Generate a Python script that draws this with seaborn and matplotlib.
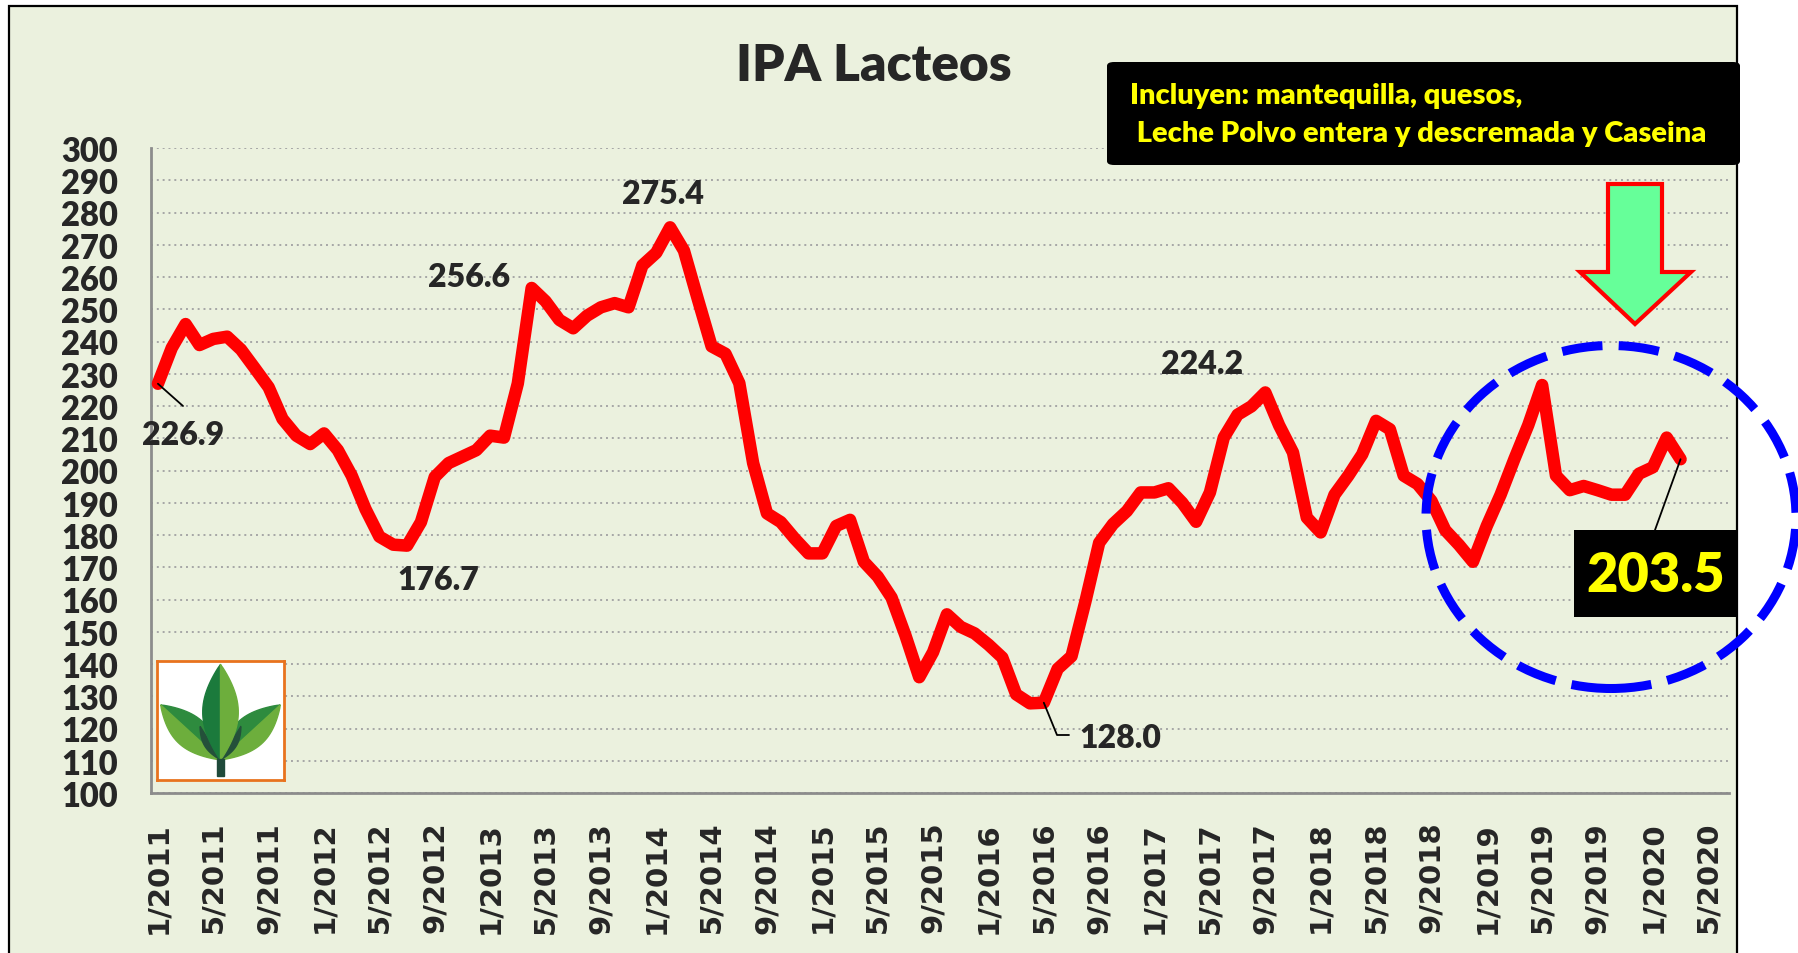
import numpy as np
import pandas as pd
import seaborn as sns
from matplotlib import pyplot as plt
from matplotlib.patches import Rectangle, Ellipse, Polygon, FancyBboxPatch
from matplotlib.lines import Line2D

# IPA Lacteos, mensual desde 1/2011 hasta 3/2020
ipa = [226.9, 238.0, 245.4, 238.9, 240.8, 241.5, 237.5, 231.7, 225.8, 216.0, 210.8, 208.2,
       211.5, 206.3, 198.4, 188.0, 179.5, 177.0, 176.7, 184.0, 198.0, 202.3, 204.3, 206.3,
       210.8, 210.2, 227.0, 256.6, 252.5, 246.7, 244.1, 248.0, 250.6, 251.9, 250.6, 263.6,
       267.5, 275.4, 268.2, 253.2, 238.5, 236.2, 227.1, 202.3, 186.7, 184.0, 178.9, 174.3,
       174.3, 182.8, 184.7, 171.7, 167.1, 160.6, 148.9, 135.9, 143.7, 155.4, 151.5, 149.5,
       146.0, 142.0, 130.6, 127.8, 128.0, 138.5, 142.4, 159.3, 177.6, 183.4, 187.4, 193.2,
       193.2, 194.5, 190.0, 184.1, 193.2, 210.2, 217.3, 219.9, 224.2, 214.0, 205.6, 185.4,
       180.8, 192.5, 198.4, 205.0, 215.4, 212.8, 198.4, 195.8, 190.6, 181.5, 176.9, 171.7,
       182.8, 192.5, 203.6, 214.1, 226.5, 198.4, 193.9, 195.2, 193.9, 192.5, 192.5, 199.0,
       201.0, 210.2, 203.5]

etiquetas_x = ["1/2011", "5/2011", "9/2011", "1/2012", "5/2012", "9/2012", "1/2013", "5/2013",
               "9/2013", "1/2014", "5/2014", "9/2014", "1/2015", "5/2015", "9/2015", "1/2016",
               "5/2016", "9/2016", "1/2017", "5/2017", "9/2017", "1/2018", "5/2018", "9/2018",
               "1/2019", "5/2019", "9/2019", "1/2020", "5/2020"]
n_meses = 114  # el eje llega hasta 6/2020

# puntos rotulados: (indice del mes, texto)
rotulos = {0: "226.9", 18: "176.7", 27: "256.6", 37: "275.4", 64: "128.0", 80: "224.2"}

titulo = "IPA Lacteos"
nota = ["Incluyen: mantequilla, quesos,", " Leche Polvo entera y descremada y Caseina"]

fondo = "#EBF1DE"
W, H = 1799, 954
peso = "heavy"

sns.set_style("white")
plt.rcParams['font.family'] = ['Lato', 'DejaVu Sans']

fig = plt.figure(figsize=(W / 100, H / 100), dpi=100)
fig.patch.set_facecolor("white")


def px(x, y):
    # pixeles medidos desde arriba a coordenadas de figura
    return x / W, 1 - y / H


# marco del grafico
marco = Rectangle(px(9, 1000), (1737 - 9) / W, (1000 - 7) / H, transform=fig.transFigure,
                  facecolor=fondo, edgecolor="black", lw=1.6, zorder=-10)
fig.add_artist(marco)

ax = fig.add_axes([151 / W, 1 - 794 / H, (1729 - 151) / W, (794 - 149) / H])
ax.set_facecolor("none")

df = pd.DataFrame({"mes": np.arange(len(ipa)), "ipa": ipa})
sns.lineplot(data=df, x="mes", y="ipa", color="#FF0000", linewidth=9, ax=ax, zorder=5)
linea = ax.lines[0]
linea.set_solid_capstyle("round")
linea.set_solid_joinstyle("round")

ax.set_xlim(-0.5, n_meses - 0.5)
ax.set_ylim(100, 300)
ax.set_xlabel("")
ax.set_ylabel("")

ax.set_yticks(range(100, 301, 10))
ax.set_yticklabels([str(v) for v in range(100, 301, 10)], fontsize=23.5, fontweight=peso)
ax.set_xticks(range(0, n_meses, 4))
ax.set_xticklabels(etiquetas_x, rotation=90, fontsize=21, fontweight="bold",
                   family="DejaVu Sans", va="top")
ax.set_xticks(np.arange(-0.5, n_meses, 1), minor=True)
ax.tick_params(axis="x", which="major", length=0, pad=20)
ax.tick_params(axis="x", which="minor", length=8.5, width=1.3, color="#8C8C8C")
ax.tick_params(axis="y", length=8, width=1.5, color="#8C8C8C", pad=16)

for s in ["top", "right"]:
    ax.spines[s].set_visible(False)
for s in ["left", "bottom"]:
    ax.spines[s].set_color("#8C8C8C")
    ax.spines[s].set_linewidth(2)
ax.yaxis.grid(True, linestyle=(0, (1, 2)), color="#A6A6A6", linewidth=1.4)
ax.set_axisbelow(True)

# titulo
fig.text(*px(874, 66), titulo, ha="center", va="center", fontsize=37, fontweight=peso)

# rotulos de datos
pos_rotulo = {0: (183, 436), 18: (438, 581), 27: (469, 278), 37: (663, 194),
              64: (1120, 738), 80: (1202, 365)}
for i, txt in rotulos.items():
    fig.text(*px(*pos_rotulo[i]), txt, ha="center", va="center", fontsize=23,
             fontweight=peso, zorder=6)


def dato_px(i):
    xd, yd = ax.transData.transform((i, ipa[i]))
    return xd, H - yd


# lineas guia
x0, y0 = dato_px(0)
fig.add_artist(Line2D([x0 / W, 183 / W], [1 - y0 / H, 1 - 407 / H], color="black", lw=1.3,
                      transform=fig.transFigure, zorder=6))
x0, y0 = dato_px(64)
fig.add_artist(Line2D([x0 / W, 1057 / W, 1069 / W], [1 - y0 / H, 1 - 736 / H, 1 - 736 / H],
                      color="black", lw=1.3, transform=fig.transFigure, zorder=6))
x0, y0 = dato_px(len(ipa) - 1)
fig.add_artist(Line2D([x0 / W, 1655 / W], [1 - y0 / H, 1 - 531 / H], color="black", lw=1.3,
                      transform=fig.transFigure, zorder=6))

# ultimo valor destacado
fig.add_artist(Rectangle(px(1574, 618), 163 / W, 87 / H, transform=fig.transFigure,
                         facecolor="black", edgecolor="none", zorder=7))
fig.text(*px(1656, 576), f"{ipa[-1]:.1f}", ha="center", va="center", fontsize=39,
         fontweight=peso, color="#FFFF00", zorder=8)

# recuadro con la nota
fig.add_artist(FancyBboxPatch(px(1107, 166), 633 / W, 103 / H, transform=fig.transFigure,
                              boxstyle="round,pad=0,rounding_size=0.004",
                              facecolor="black", edgecolor="none", zorder=7))
fig.text(*px(1130, 96), nota[0], ha="left", va="center", fontsize=21, fontweight=peso,
         color="#FFFF00", zorder=8)
fig.text(*px(1130, 134), nota[1], ha="left", va="center", fontsize=21, fontweight=peso,
         color="#FFFF00", zorder=8)

# flecha verde
flecha = [(1608, 185), (1662, 185), (1662, 273), (1691, 273), (1635, 325),
          (1580, 273), (1608, 273)]
fig.add_artist(Polygon([px(a, b) for a, b in flecha], closed=True, transform=fig.transFigure,
                       facecolor="#66FF99", edgecolor="#FF0000", lw=3, joinstyle="miter",
                       zorder=7))

# elipse azul punteada
fig.add_artist(Ellipse(px(1611, 518), 370 / W, 343 / H, transform=fig.transFigure,
                       facecolor="none", edgecolor="#0000FF", lw=6.5,
                       linestyle=(0, (4.5, 1.8)), zorder=9))

# logo
lax = fig.add_axes([157 / W, 1 - 781 / H, 127 / W, 119 / H])
lax.set_xlim(0, 1)
lax.set_ylim(0, 1)
lax.set_xticks([])
lax.set_yticks([])
lax.set_facecolor("white")
for s in lax.spines.values():
    s.set_color("#E8731E")
    s.set_linewidth(2)


def hoja(base, punta, ancho, lado):
    t = np.linspace(0, 1, 30)
    bx, by = base
    dx, dy = punta[0] - bx, punta[1] - by
    largo = np.hypot(dx, dy)
    nx, ny = -dy / largo, dx / largo
    w = ancho * np.sin(np.pi * t) ** 0.9
    xs = bx + dx * t + lado * w * nx
    ys = by + dy * t + lado * w * ny
    return np.column_stack([np.r_[xs, bx + dx * t[::-1]], np.r_[ys, by + dy * t[::-1]]])


base = (0.5, 0.17)
lax.add_patch(Polygon(hoja(base, (0.03, 0.63), 0.13, -1), color="#2E8B3E"))
lax.add_patch(Polygon(hoja(base, (0.03, 0.63), 0.13, 1), color="#6DAE3C"))
lax.add_patch(Polygon(hoja(base, (0.97, 0.63), 0.13, 1), color="#2E8B3E"))
lax.add_patch(Polygon(hoja(base, (0.97, 0.63), 0.13, -1), color="#6DAE3C"))
lax.add_patch(Polygon(hoja(base, (0.34, 0.45), 0.05, 1), color="#24503A"))
lax.add_patch(Polygon(hoja(base, (0.66, 0.45), 0.05, -1), color="#24503A"))
lax.add_patch(Polygon(hoja(base, (0.5, 0.97), 0.14, 1), color="#1B7A3C"))
lax.add_patch(Polygon(hoja(base, (0.5, 0.97), 0.14, -1), color="#6DAE3C"))
lax.add_patch(Rectangle((0.47, 0.03), 0.06, 0.15, color="#1F4A3A"))

fig.savefig("out.png", dpi=100, facecolor="white")
